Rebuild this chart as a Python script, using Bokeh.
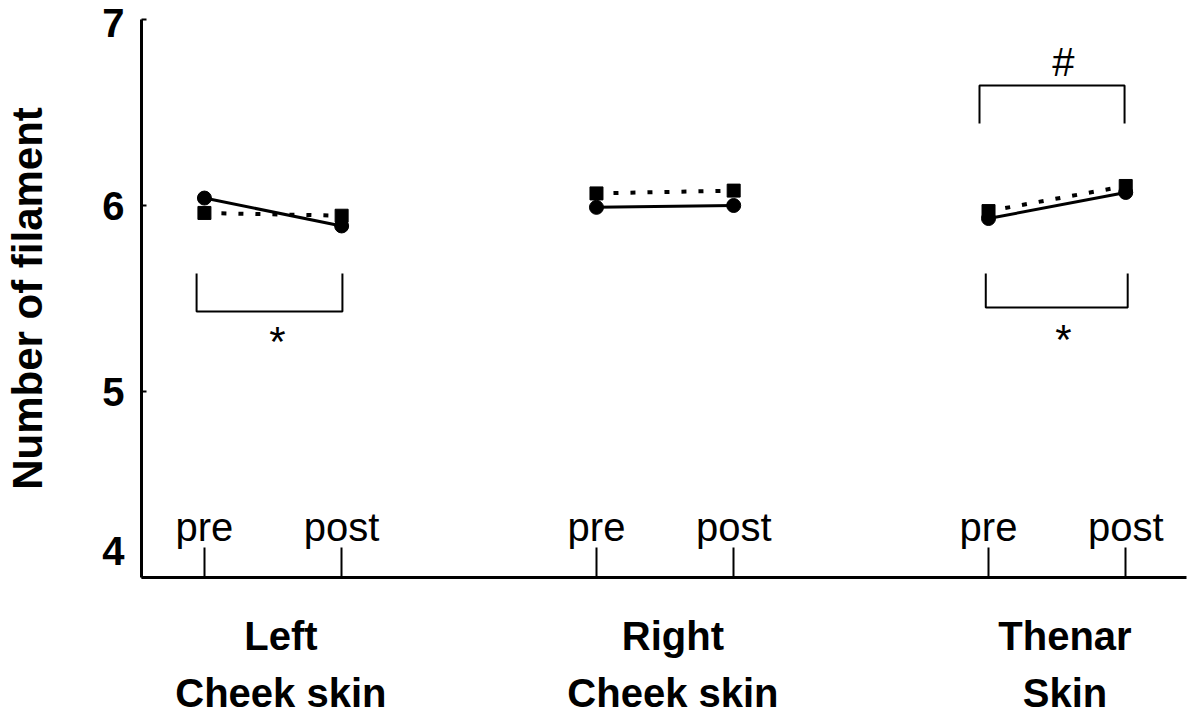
from bokeh.plotting import figure
from bokeh.models import FixedTicker, LinearAxis
from bokeh.core.properties import value
from bokeh.embed import file_html
from bokeh.resources import INLINE

# ---- data ----
groups = ["Left", "Right", "Thenar"]
group_line1 = ["Left", "Right", "Thenar"]
group_line2 = ["Cheek skin", "Cheek skin", "Skin"]
phases = ["pre", "post"]
circle_pre = [6.04, 5.99, 5.93]
circle_post = [5.89, 6.00, 6.07]
square_pre = [5.96, 6.065, 5.97]
square_post = [5.945, 6.08, 6.105]
y_ticks = [4, 5, 6, 7]
y_labels = ["4\n ", "5", "6", "7"]

# ---- layout helpers ----
group_pos = [0.0, 1.0, 2.0]
half = 0.175
pre_x = [g - half for g in group_pos]
post_x = [g + half for g in group_pos]
label_pos = [g + 0.02 for g in group_pos]

FONT = "Liberation Sans"

p = figure(width=1190, height=718, output_backend="svg", toolbar_location=None,
           x_range=(-0.3355, 2.330), y_range=(4, 7),
           min_border_left=141, min_border_right=4, min_border_top=19, min_border_bottom=141)
p.outline_line_color = None
p.xgrid.visible = False
p.ygrid.visible = False
p.background_fill_color = "white"

# x axis: pre/post ticks pointing inward
p.xaxis.ticker = FixedTicker(ticks=sorted(pre_x + post_x))
p.xaxis.major_tick_in = 30
p.xaxis.major_tick_out = 0
p.xaxis.major_tick_line_width = 2
p.xaxis.minor_tick_line_color = None
p.xaxis.major_label_text_color = None
p.xaxis.major_label_text_font_size = "0px"
p.xaxis.major_label_standoff = 0
p.xaxis.axis_line_width = 3
p.xaxis.axis_line_color = "black"
p.xaxis.major_tick_line_color = "black"

# category label axes (two lines)
for names, standoff in ((group_line1, 36), (group_line2, 10)):
    ax = LinearAxis(ticker=FixedTicker(ticks=label_pos),
                    major_label_overrides={label_pos[i]: names[i] for i in range(3)},
                    major_label_standoff=standoff,
                    major_label_text_font=FONT, major_label_text_font_style="bold",
                    major_label_text_font_size="40px", major_label_text_color="black",
                    axis_line_color=None, major_tick_line_color=None,
                    minor_tick_line_color=None, major_tick_out=0, major_tick_in=0)
    p.add_layout(ax, "below")

# y axis
p.yaxis.ticker = FixedTicker(ticks=y_ticks)
p.yaxis.major_tick_in = 5
p.yaxis.major_tick_out = 0
p.yaxis.major_tick_line_width = 2
p.yaxis.minor_tick_line_color = None
p.yaxis.axis_line_width = 3
p.yaxis.axis_line_color = "black"
p.yaxis.major_tick_line_color = "black"
p.yaxis.major_label_overrides = {y_ticks[i]: y_labels[i] for i in range(4)}
p.yaxis.major_label_text_font = FONT
p.yaxis.major_label_text_font_style = "bold"
p.yaxis.major_label_text_font_size = "40px"
p.yaxis.major_label_text_color = "black"
p.yaxis.major_label_standoff = 17
p.yaxis.axis_label = "Number of filament"
p.yaxis.axis_label_text_font = FONT
p.yaxis.axis_label_text_font_style = "bold"
p.yaxis.axis_label_text_font_size = "42px"
p.yaxis.axis_label_text_color = "black"
p.yaxis.axis_label_standoff = 48

# data lines
for i in range(3):
    p.line([pre_x[i], post_x[i]], [square_pre[i], square_post[i]],
           line_color="black", line_width=4, line_dash="5 12")
    p.line([pre_x[i], post_x[i]], [circle_pre[i], circle_post[i]],
           line_color="black", line_width=3)
p.scatter(pre_x + post_x, circle_pre + circle_post, marker="circle", size=14,
          fill_color="black", line_color="black")
p.scatter(pre_x + post_x, square_pre + square_post, marker="square", size=13,
          fill_color="black", line_color="black")

# pre / post labels
px = []
pt = []
for i in range(3):
    px += [pre_x[i], post_x[i]]
    pt += phases
p.text(px, [4.27] * len(px), text=pt, text_align="center", text_baseline="alphabetic",
       text_font=value(FONT), text_font_size="40px", text_color="black")

# significance brackets
br_xs = [[-0.195, -0.195, 0.177, 0.177],
         [1.818, 1.818, 2.180, 2.180],
         [1.802, 1.802, 2.172, 2.172]]
br_ys = [[5.634, 5.430, 5.430, 5.634],
         [5.634, 5.452, 5.452, 5.634],
         [6.441, 6.645, 6.645, 6.441]]
p.multi_line(br_xs, br_ys, line_color="black", line_width=2)
p.text([0.011, 2.016], [5.268, 5.28], text=["*", "*"],
       text_align="center", text_baseline="alphabetic",
       text_font=value(FONT), text_font_size="42px", text_color="black")
p.text([2.016], [6.77], text=["#"],
       text_align="center", text_baseline="alphabetic",
       text_font=value(FONT), text_font_size="40px", text_color="black")

open("out.html", "w").write(file_html(p, INLINE))
